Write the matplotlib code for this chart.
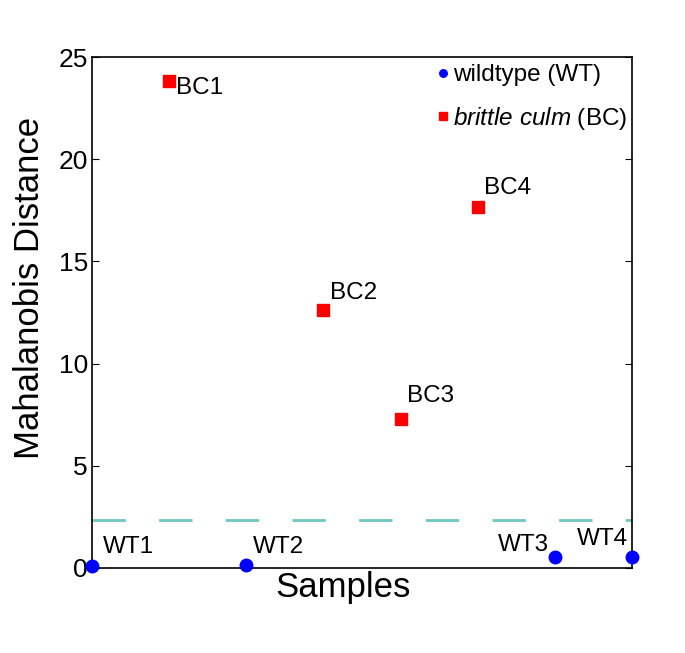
import numpy as np
import matplotlib.pyplot as plt

plt.rcParams['font.family'] = ['Liberation Sans', 'DejaVu Sans']
plt.rcParams['mathtext.fontset'] = 'custom'
plt.rcParams['mathtext.it'] = 'Liberation Sans:italic'
plt.rcParams['mathtext.rm'] = 'Liberation Sans'

# sample order along x
samples = ['WT1', 'BC1', 'WT2', 'BC2', 'BC3', 'BC4', 'WT3', 'WT4']
distance = [0.1, 23.85, 0.15, 12.6, 7.3, 17.65, 0.55, 0.55]
group = ['WT', 'BC', 'WT', 'BC', 'BC', 'BC', 'WT', 'WT']
threshold = 2.35

# label offsets in pixels (dx, dy, ha)
offsets = {'WT1': (11, 19, 'left'), 'BC1': (7, -7, 'left'), 'WT2': (7, 18, 'left'),
           'BC2': (7, 17, 'left'), 'BC3': (6, 23, 'left'), 'BC4': (6, 19, 'left'),
           'WT3': (-6, 12, 'right'), 'WT4': (-4, 18, 'right')}

x = np.arange(1, len(samples) + 1)
distance = np.array(distance)
isWT = np.array([g == 'WT' for g in group])

fig = plt.figure(figsize=(6.85, 6.53), dpi=100)
ax = fig.add_axes([0.1343, 0.1302, 0.7883, 0.7825])

ax.axhline(threshold, color='#6cc8c0', lw=2, dashes=(12, 12), zorder=1)

ax.plot(x[isWT], distance[isWT], 'o', color='#0000ff', ms=9, clip_on=False,
        label='wildtype (WT)', zorder=3)
ax.plot(x[~isWT], distance[~isWT], 's', color='#ff0000', ms=8.5, clip_on=False,
        label=r'$\it{brittle\ culm}$ (BC)', zorder=3)

for xi, yi, s in zip(x, distance, samples):
    dx, dy, ha = offsets[s]
    ax.annotate(s, (xi, yi), xytext=(dx, dy), textcoords='offset pixels',
                ha=ha, va='center', fontsize=17.5)

ax.set_xlim(1, 8)
ax.set_ylim(0, 25)
ax.set_xticks([])
ax.set_yticks([0, 5, 10, 15, 20, 25])
ax.tick_params(axis='y', direction='in', length=5, labelsize=19, right=True, pad=3)
ax.set_ylabel('Mahalanobis Distance', fontsize=25)
ax.set_xlabel('Samples', fontsize=25)
ax.yaxis.set_label_coords(-0.085, 0.548)
ax.xaxis.set_label_coords(0.465, -0.006)
for sp in ax.spines.values():
    sp.set_linewidth(1.2)

ax.legend(loc='upper right', frameon=False, fontsize=17.5, handletextpad=0.1,
          handlelength=0.6, markerscale=0.6, borderaxespad=0.0, labelspacing=0.75,
          borderpad=0.3, bbox_to_anchor=(1.005, 1.0))

fig.savefig('out.png', dpi=100)
